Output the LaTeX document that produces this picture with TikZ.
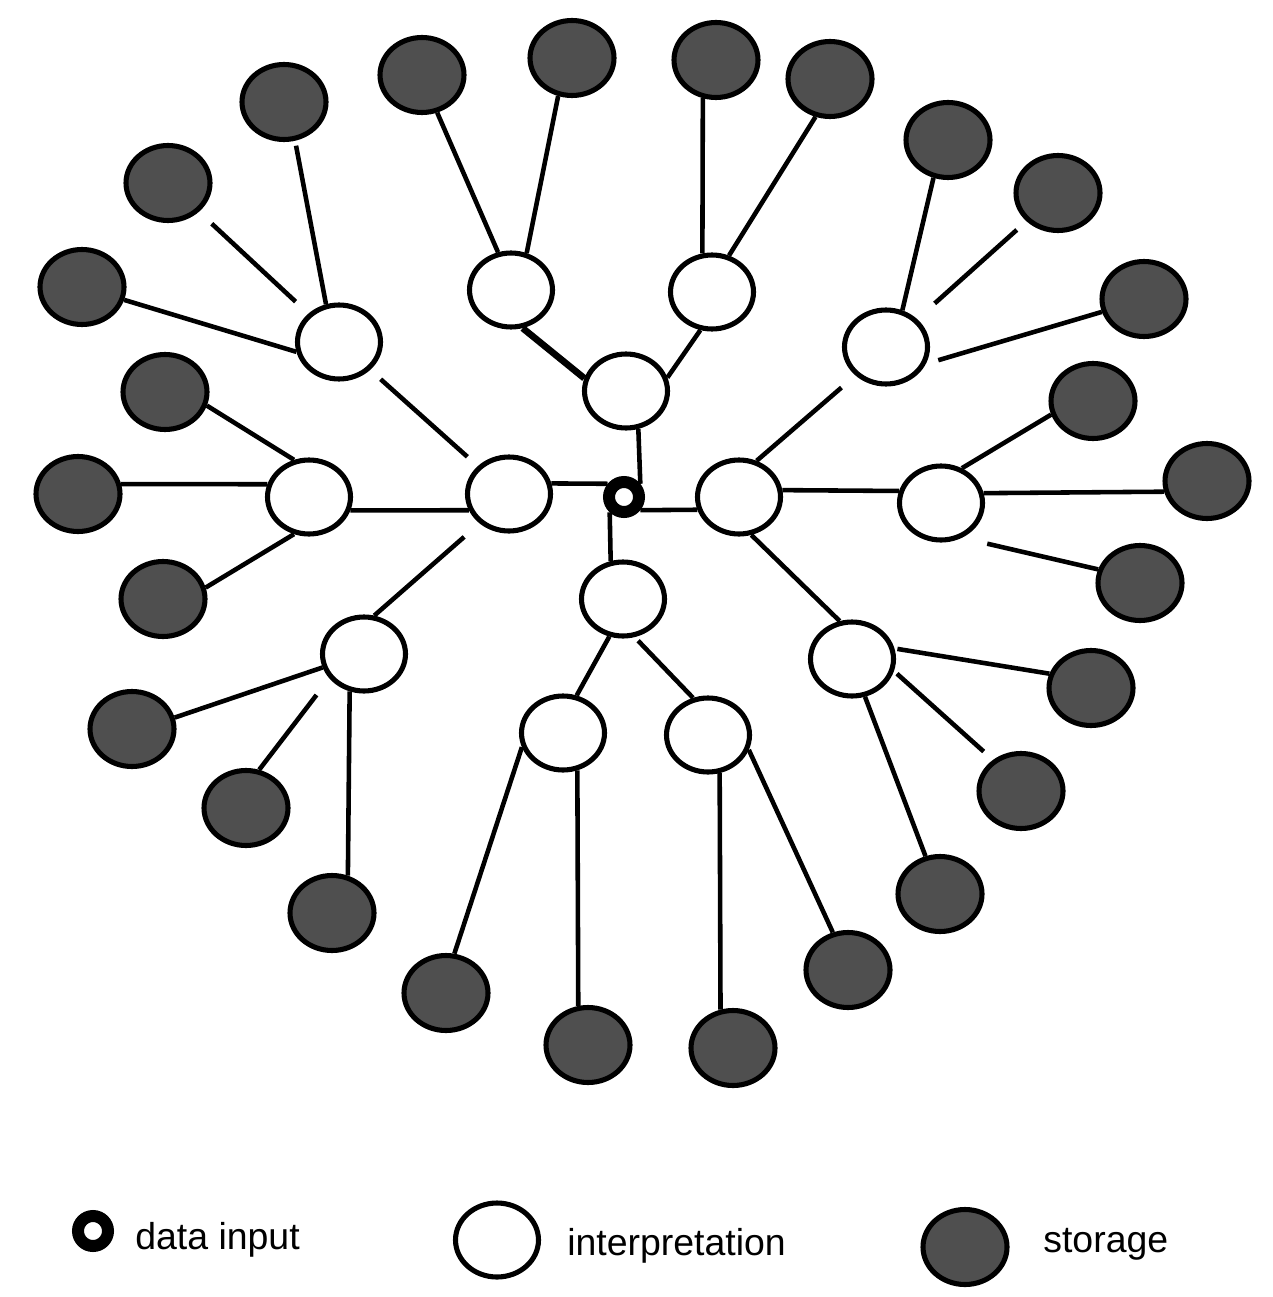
\documentclass[tikz,border=0pt]{standalone}
\usepackage{fontspec}
\setmainfont{Liberation Sans}
\usetikzlibrary{shapes.geometric}
\definecolor{storfill}{gray}{0.31}
\tikzset{
  interp/.style={ellipse, draw=black, line width=2.9pt, fill=white, inner sep=0pt, minimum width=1.66cm, minimum height=1.48cm},
  stor/.style={ellipse, draw=black, line width=2.9pt, fill=storfill, inner sep=0pt, minimum width=1.68cm, minimum height=1.50cm},
  datain/.style={circle, draw=black, line width=0.24cm, fill=white, inner sep=0pt, minimum size=0.6cm},
  conn/.style={draw=black, line width=2.6pt},
  lbl/.style={anchor=base west, inner sep=0pt, font=\fontsize{21.3}{25}\selectfont}
}
\begin{document}
\begin{tikzpicture}[x=0.02cm, y=-0.02cm]
\useasboundingbox[fill=white] (0,0) rectangle (1272,1297);

% data input
\node[datain] (c) at (624,497) {};

% interpretation nodes
\node[interp] (I1) at (626,391) {};
\node[interp] (I2) at (509,494) {};
\node[interp] (I3) at (739,497) {};
\node[interp] (I4) at (623,599) {};
\node[interp] (I5) at (339,342) {};
\node[interp] (I6) at (511,290) {};
\node[interp] (I7) at (712,292) {};
\node[interp] (I8) at (886,347) {};
\node[interp] (I9) at (309,497) {};
\node[interp] (I10) at (941,503) {};
\node[interp] (I11) at (364,654) {};
\node[interp] (I12) at (852,659) {};
\node[interp] (I13) at (563,733) {};
\node[interp] (I14) at (708,735) {};

% storage nodes
\node[stor] (S1) at (284,102) {};
\node[stor] (S2) at (168,183) {};
\node[stor] (S3) at (82,287) {};
\node[stor] (S4) at (165,392) {};
\node[stor] (S5) at (78,494) {};
\node[stor] (S6) at (163,599) {};
\node[stor] (S7) at (132,729) {};
\node[stor] (S8) at (246,808) {};
\node[stor] (S9) at (332,913) {};
\node[stor] (S10) at (446,993) {};
\node[stor] (S11) at (588,1045) {};
\node[stor] (S12) at (733,1048) {};
\node[stor] (S13) at (848,970) {};
\node[stor] (S14) at (940,894) {};
\node[stor] (S15) at (1021,791) {};
\node[stor] (S16) at (1091,688) {};
\node[stor] (S17) at (1140,583) {};
\node[stor] (S18) at (1207,481) {};
\node[stor] (S19) at (1093,401) {};
\node[stor] (S20) at (1144,299) {};
\node[stor] (S21) at (1058,193) {};
\node[stor] (S22) at (948,140) {};
\node[stor] (S23) at (830,79) {};
\node[stor] (S24) at (716,60) {};
\node[stor] (S25) at (572,58) {};
\node[stor] (S26) at (422,75) {};

% centre pinwheel
\draw[conn] (I1.-72) -- (c.39);
\draw[conn] (I2.14) -- (c.141);
\draw[conn] (c.-39) -- (I3.197);
\draw[conn] (c.-133) -- (I4.108);

% interpretation to interpretation
\draw[conn, shorten <=0.28cm, shorten >=0.28cm] (I5) -- (I2);
\draw[conn] (I9.-18) -- (I2.-158);
\draw[conn, shorten >=0.41cm] (I11.75) -- (I2.-135);
\draw[conn, line width=3.8pt] (I6.-73) -- (I1.163);
\draw[conn] (I1.18) -- (I7.-107);
\draw[conn, shorten >=0.37cm] (I3.64) -- (I8.-137);
\draw[conn] (I3.9) -- (I10.164);
\draw[conn] (I3.-72) -- (I12.108);
\draw[conn] (I4.-110) -- (I13.70);
\draw[conn, shorten <=0.1cm] (I4.-73) -- (I14.112);

% storage links
\draw[conn, shorten <=0.1cm] (S1.-74) -- (I5.109);
\draw[conn, shorten <=0.35cm, shorten >=0.35cm] (S2) -- (I5);
\draw[conn] (S3.-17) -- (I5.-167);
\draw[conn] (S4.-18) -- (I9.112);
\draw[conn] (S5.13) -- (I9.163);
\draw[conn] (S6.15) -- (I9.-112);
\draw[conn] (S7.15) -- (I11.198);
\draw[conn, shorten >=0.42cm] (S8.71) -- (I11.-145);
\draw[conn] (S9.67) -- (I11.-111);
\draw[conn] (S10.78) -- (I13.-161);
\draw[conn] (S11.104) -- (I13.-69);
\draw[conn] (S12.108) -- (I14.-73);
\draw[conn] (S13.112) -- (I14.-20);
\draw[conn] (S14.111) -- (I12.-71);
\draw[conn, shorten <=0.08cm, shorten >=0.25cm] (I12.-16) -- (S15.132);
\draw[conn, shorten <=0.06cm] (I12.14) -- (S16.161);
\draw[conn, shorten <=0.52cm] (I10.-59) -- (S17.162);
\draw[conn] (I10.13) -- (S18.-166);
\draw[conn] (I10.59) -- (S19.-162);
\draw[conn, shorten <=0.26cm] (I8.-23) -- (S20.-163);
\draw[conn, shorten <=0.47cm, shorten >=0.26cm] (I8) -- (S21);
\draw[conn] (I8.66) -- (S22.-111);
\draw[conn] (I7.65) -- (S23.-111);
\draw[conn] (I7.104) -- (S24.-109);
\draw[conn] (I6.67) -- (S25.-110);
\draw[conn] (I6.109) -- (S26.-68);

% legend
\node[datain] (Ld) at (93,1231) {};
\node[lbl] (Tld) at (135,1249) {data input};
\node[interp] (Li) at (497,1240) {};
\node[lbl] (Tli) at (567,1255) {interpretation};
\node[stor] (Ls) at (965,1247) {};
\node[lbl] (Tls) at (1043,1252) {storage};
\end{tikzpicture}
\end{document}
